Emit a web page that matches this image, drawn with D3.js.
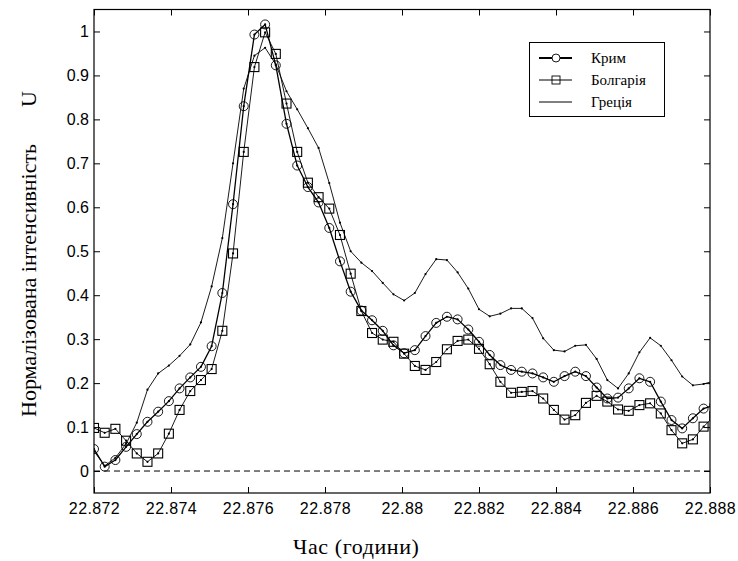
<!DOCTYPE html>
<html>
<head>
<meta charset="utf-8">
<script src="https://cdn.jsdelivr.net/npm/d3@7"></script>
<style>
  html, body { margin: 0; padding: 0; background: #fff; }
  svg { display: block; }
  .tick text { font-family: "Liberation Sans", Arial, sans-serif; font-size: 16px; fill: #000; }
  .serif { font-family: "Liberation Serif", "Times New Roman", serif; fill: #000; }
</style>
</head>
<body>
<svg id="chart" width="738" height="561"></svg>
<script>
// ---- data ----
const startHour = 22.872;
const seconds = [0,1,2,3,4,5,6,7,8,9,10,11,12,13,14,15,16,17,18,19,20,21,22,23,24,25,26,27,28,29,
                 30,31,32,33,34,35,36,37,38,39,40,41,42,43,44,45,46,47,48,49,50,51,52,53,54,55,56,57,58];
const krym = [0.050,0.010,0.025,0.055,0.084,0.112,0.135,0.159,0.188,0.213,
              0.237,0.284,0.405,0.607,0.830,0.993,1.016,0.923,0.790,0.695,
              0.646,0.611,0.553,0.477,0.408,0.365,0.343,0.319,0.286,0.268,
              0.275,0.307,0.337,0.351,0.345,0.322,0.294,0.264,0.241,0.230,
              0.226,0.222,0.213,0.203,0.216,0.226,0.216,0.190,0.165,0.167,
              0.188,0.211,0.203,0.158,0.116,0.097,0.120,0.142,0.150];
const bulgaria = [0.098,0.087,0.096,0.069,0.040,0.021,0.040,0.085,0.139,0.182,
                  0.207,0.232,0.319,0.495,0.726,0.919,0.998,0.949,0.836,0.726,
                  0.656,0.623,0.597,0.537,0.449,0.364,0.314,0.299,0.294,0.267,
                  0.239,0.230,0.248,0.277,0.296,0.299,0.278,0.243,0.203,0.178,
                  0.180,0.182,0.165,0.139,0.117,0.127,0.155,0.171,0.158,0.140,
                  0.137,0.150,0.154,0.131,0.093,0.063,0.072,0.101,0.125];
const greece = [0.045,0.012,0.030,0.062,0.110,0.185,0.222,0.240,0.262,0.288,
                0.338,0.420,0.530,0.700,0.870,0.945,0.963,0.925,0.864,0.823,
                0.780,0.735,0.655,0.565,0.500,0.474,0.455,0.428,0.402,0.388,
                0.405,0.448,0.482,0.480,0.452,0.415,0.368,0.352,0.358,0.370,
                0.370,0.348,0.302,0.275,0.272,0.285,0.287,0.255,0.207,0.188,
                0.222,0.270,0.303,0.285,0.252,0.215,0.195,0.198,0.205];
const seriesNames = ["Крим", "Болгарія", "Греція"];
const xTickValues = [22.872,22.874,22.876,22.878,22.880,22.882,22.884,22.886,22.888];
const xTickLabels = ["22.872","22.874","22.876","22.878","22.88","22.882","22.884","22.886","22.888"];
const yTickValues = [0,0.1,0.2,0.3,0.4,0.5,0.6,0.7,0.8,0.9,1];
const yTickLabels = ["0","0.1","0.2","0.3","0.4","0.5","0.6","0.7","0.8","0.9","1"];
const xTitle = "Час (години)";
const yTitleMain = "Нормалізована інтенсивність";
const yTitleUnit = "U";

// ---- layout ----
const L = 94, R = 710, T = 9.5, B = 493;
const svg = d3.select("#chart");
svg.append("rect").attr("width", 738).attr("height", 561).attr("fill", "#fff");

const x = d3.scaleLinear().domain([22.872, 22.888]).range([L, R]);
const y = d3.scaleLinear().domain([-0.05, 1.05]).range([B, T]);
const hours = seconds.map(s => startHour + s / 3600);

svg.append("defs").append("clipPath").attr("id", "clip")
  .append("rect").attr("x", L).attr("y", T).attr("width", R - L).attr("height", B - T);

const plot = svg.append("g").attr("clip-path", "url(#clip)");

// zero dashed line
plot.append("line")
  .attr("x1", x(22.872)).attr("x2", x(22.888))
  .attr("y1", y(0)).attr("y2", y(0))
  .attr("stroke", "#000").attr("stroke-width", 1)
  .attr("stroke-dasharray", "6,4");

const line = d3.line().x((d, i) => x(hours[i])).y(d => y(d));

function drawSeries(values, width) {
  plot.append("path").datum(values)
    .attr("d", line)
    .attr("fill", "none").attr("stroke", "#000")
    .attr("stroke-width", width).attr("stroke-linejoin", "round");
  plot.append("g").selectAll("circle").data(values).join("circle")
    .attr("cx", (d, i) => x(hours[i])).attr("cy", d => y(d))
    .attr("r", 1.1).attr("fill", "#000");
}

drawSeries(greece, 0.9);
drawSeries(bulgaria, 0.9);
drawSeries(krym, 1.3);

// markers
plot.append("g").selectAll("rect").data(bulgaria).join("rect")
  .attr("x", (d, i) => x(hours[i]) - 4.5).attr("y", d => y(d) - 4.5)
  .attr("width", 9).attr("height", 9)
  .attr("fill", "none").attr("stroke", "#000").attr("stroke-width", 1.1);
plot.append("g").selectAll("circle").data(krym).join("circle")
  .attr("cx", (d, i) => x(hours[i])).attr("cy", d => y(d))
  .attr("r", 4.5)
  .attr("fill", "none").attr("stroke", "#000").attr("stroke-width", 0.9);

// axes
const fmtX = d => xTickLabels[xTickValues.indexOf(d)];
const fmtY = d => yTickLabels[yTickValues.indexOf(d)];

const gx = svg.append("g").attr("transform", `translate(0,${B})`)
  .call(d3.axisBottom(x).tickValues(xTickValues).tickFormat(fmtX).tickSizeInner(-6).tickSizeOuter(0).tickPadding(10));
const gxt = svg.append("g").attr("transform", `translate(0,${T})`)
  .call(d3.axisTop(x).tickValues(xTickValues).tickFormat("").tickSizeInner(-6).tickSizeOuter(0));
const gy = svg.append("g").attr("transform", `translate(${L},0)`)
  .call(d3.axisLeft(y).tickValues(yTickValues).tickFormat(fmtY).tickSizeInner(-6).tickSizeOuter(0).tickPadding(5));
const gyr = svg.append("g").attr("transform", `translate(${R},0)`)
  .call(d3.axisRight(y).tickValues(yTickValues).tickFormat("").tickSizeInner(-6).tickSizeOuter(0));
[gx, gxt, gy, gyr].forEach(g => {
  g.select(".domain").remove();
  g.selectAll(".tick line").attr("stroke", "#000").attr("stroke-width", 1);
});
gx.selectAll(".tick text").attr("letter-spacing", "0.4px");

// frame
svg.append("rect").attr("x", L).attr("y", T).attr("width", R - L).attr("height", B - T)
  .attr("fill", "none").attr("stroke", "#000").attr("stroke-width", 1.2);

// axis titles
svg.append("text").attr("class", "serif").attr("x", 293).attr("y", 554).attr("text-anchor", "start")
  .attr("font-size", 22).attr("letter-spacing", "0.6px")
  .text(xTitle);
svg.append("text").attr("class", "serif").attr("transform", "translate(36,417) rotate(-90)").attr("text-anchor", "start")
  .attr("font-size", 22)
  .text(yTitleMain);
svg.append("text").attr("class", "serif").attr("transform", "translate(36,107) rotate(-90)").attr("text-anchor", "start")
  .attr("font-size", 22)
  .text(yTitleUnit);

// legend
const lg = svg.append("g");
lg.append("rect").attr("x", 529.5).attr("y", 42.5).attr("width", 135).attr("height", 74)
  .attr("fill", "#fff").attr("stroke", "#000").attr("stroke-width", 1);
const legendRows = [
  {name: seriesNames[0], yy: 58, w: 2, mark: "circle"},
  {name: seriesNames[1], yy: 80, w: 1, mark: "square"},
  {name: seriesNames[2], yy: 102, w: 1, mark: null}
];
legendRows.forEach(r => {
  lg.append("line").attr("x1", 539).attr("x2", 572).attr("y1", r.yy).attr("y2", r.yy)
    .attr("stroke", "#000").attr("stroke-width", r.w);
  if (r.mark === "circle") {
    lg.append("circle").attr("cx", 556).attr("cy", r.yy).attr("r", 4)
      .attr("fill", "#fff").attr("stroke", "#000").attr("stroke-width", 0.9);
  } else if (r.mark === "square") {
    lg.append("rect").attr("x", 552).attr("y", r.yy - 4).attr("width", 8).attr("height", 8)
      .attr("fill", "none").attr("stroke", "#000").attr("stroke-width", 0.9);
  }
  lg.append("text").attr("class", "serif").attr("x", 591).attr("y", r.yy + 5)
    .attr("font-size", 15)
    .text(r.name);
});
</script>
</body>
</html>
